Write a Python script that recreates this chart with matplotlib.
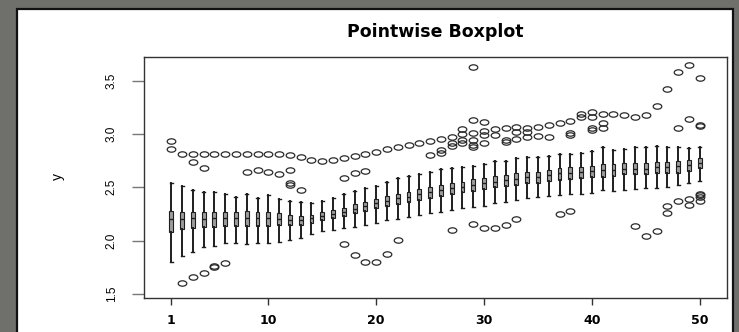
import numpy as np
import matplotlib
matplotlib.use("Agg")
import matplotlib.pyplot as plt
from matplotlib.patches import Rectangle
from matplotlib.path import Path
from matplotlib.transforms import Affine2D

# per-position box statistics (positions 1..50)
medians = [2.20, 2.20, 2.21, 2.20, 2.21, 2.21, 2.21, 2.21, 2.21, 2.21,
           2.20, 2.19, 2.19, 2.21, 2.23, 2.25, 2.27, 2.30, 2.32, 2.35,
           2.375, 2.397, 2.412, 2.434, 2.453, 2.475, 2.49, 2.506, 2.521, 2.537,
           2.553, 2.568, 2.58, 2.60, 2.60, 2.615, 2.63, 2.635, 2.64, 2.653,
           2.662, 2.662, 2.67, 2.676, 2.676, 2.69, 2.69, 2.70, 2.71, 2.725]
q1 = [2.084, 2.106, 2.116, 2.125, 2.13, 2.137, 2.14, 2.137, 2.137, 2.137,
      2.144, 2.144, 2.15, 2.168, 2.19, 2.21, 2.23, 2.256, 2.28, 2.303,
      2.325, 2.343, 2.365, 2.381, 2.403, 2.418, 2.437, 2.453, 2.465, 2.481,
      2.506, 2.512, 2.521, 2.537, 2.543, 2.562, 2.568, 2.578, 2.584, 2.594,
      2.60, 2.606, 2.62, 2.62, 2.62, 2.63, 2.637, 2.637, 2.656, 2.678]
q3 = [2.281, 2.27, 2.27, 2.266, 2.266, 2.266, 2.266, 2.278, 2.27, 2.266,
      2.256, 2.237, 2.234, 2.243, 2.265, 2.287, 2.31, 2.34, 2.365, 2.393,
      2.418, 2.437, 2.459, 2.481, 2.50, 2.521, 2.537, 2.553, 2.575, 2.584,
      2.606, 2.615, 2.63, 2.64, 2.647, 2.662, 2.678, 2.687, 2.693, 2.70,
      2.715, 2.715, 2.725, 2.73, 2.73, 2.74, 2.74, 2.747, 2.756, 2.772]
whisk_lo = [1.803, 1.856, 1.894, 1.94, 1.953, 1.975, 1.975, 1.97, 1.98, 1.975,
            1.984, 2.006, 2.025, 2.062, 2.087, 2.097, 2.116, 2.13, 2.147, 2.168,
            2.19, 2.20, 2.218, 2.24, 2.256, 2.272, 2.287, 2.309, 2.318, 2.325,
            2.35, 2.365, 2.381, 2.397, 2.406, 2.418, 2.428, 2.437, 2.44, 2.45,
            2.475, 2.468, 2.475, 2.487, 2.49, 2.49, 2.506, 2.519, 2.543, 2.562]
whisk_hi = [2.543, 2.515, 2.475, 2.453, 2.453, 2.437, 2.406, 2.44, 2.397, 2.425,
            2.387, 2.375, 2.36, 2.355, 2.375, 2.403, 2.434, 2.468, 2.497, 2.515,
            2.553, 2.584, 2.609, 2.622, 2.64, 2.672, 2.684, 2.693, 2.703, 2.718,
            2.746, 2.75, 2.772, 2.78, 2.78, 2.793, 2.812, 2.812, 2.825, 2.84,
            2.875, 2.85, 2.862, 2.88, 2.88, 2.887, 2.875, 2.88, 2.865, 2.875]
outliers = [
    [2.93, 2.86], [2.81, 1.60], [2.81, 2.74, 1.66], [2.81, 2.68, 1.70],
    [2.81, 1.76, 1.75], [2.81, 1.79], [2.81], [2.81, 2.64], [2.81, 2.665],
    [2.81, 2.64], [2.81, 2.62], [2.80, 2.66, 2.54, 2.52], [2.78, 2.475],
    [2.76], [2.75], [2.756], [2.77, 2.584, 1.966], [2.79, 2.637, 1.862],
    [2.81, 2.653, 1.797], [2.83, 1.797], [2.856, 1.878], [2.875, 2.003],
    [2.893], [2.912], [2.934, 2.80], [2.953, 2.85, 2.82],
    [2.975, 2.912, 2.89, 2.097], [3.0, 3.044, 2.943, 2.912],
    [3.625, 3.131, 3.01, 2.943, 2.90, 2.875, 2.155],
    [3.115, 3.03, 2.99, 2.912, 2.122], [3.045, 2.99, 2.115],
    [3.06, 2.943, 2.92, 2.144], [3.068, 3.018, 2.955, 2.206],
    [3.06, 3.02, 2.974], [3.068, 2.98], [3.084, 2.974], [3.10, 2.25],
    [3.12, 3.006, 2.99, 2.28], [3.187, 3.16], [3.21, 3.16, 3.06, 3.04],
    [3.187, 3.10, 3.06], [3.187], [3.177], [3.16, 2.14], [3.177, 2.04],
    [3.262, 2.09], [3.418, 2.32, 2.26], [3.578, 3.06, 2.37],
    [3.643, 3.143, 2.39, 2.334], [3.527, 3.07, 3.08, 2.44, 2.428, 2.41, 2.372],
]
positions = list(range(1, 51))
xtick_pos = [1, 10, 20, 30, 40, 50]
ytick_pos = [1.5, 2.0, 2.5, 3.0, 3.5]

stats = []
for i in range(len(positions)):
    stats.append(dict(med=medians[i], q1=q1[i], q3=q3[i],
                      whislo=whisk_lo[i], whishi=whisk_hi[i],
                      fliers=outliers[i]))

# R draws open circles; the screenshot stretches them into wide ellipses
ellipse = Path(Affine2D().scale(1.6, 1.0).transform(Path.unit_circle().vertices),
               Path.unit_circle().codes)

fig = plt.figure(figsize=(7.39, 3.32), dpi=100, facecolor="#6f6f6c")
fig.patches.append(Rectangle((17 / 739, -0.05), 716 / 739, 1.05 - 9 / 332,
                             transform=fig.transFigure, facecolor="white",
                             edgecolor="#111111", linewidth=1.6, zorder=-10))

ax = fig.add_axes([144.3 / 739, 1 - 297.7 / 332, 582.4 / 739, 241 / 332])
ax.set_zorder(2)
ax.set_facecolor("white")

ax.bxp(stats, positions=positions, widths=0.36, patch_artist=True,
       showfliers=True, capwidths=0.28,
       boxprops=dict(facecolor="#9d9d9d", edgecolor="#1e1e1e", linewidth=0.8),
       medianprops=dict(color="#1e1e1e", linewidth=1.0),
       whiskerprops=dict(color="#1e1e1e", linewidth=1.4),
       capprops=dict(color="#1e1e1e", linewidth=1.0),
       flierprops=dict(marker=ellipse, markersize=6.2, markerfacecolor="none",
                       markeredgecolor="#2a2a2a", markeredgewidth=0.9))

ax.set_xlim(-1.5, 52.5)
ax.set_ylim(1.465, 3.724)

ax.set_xticks(xtick_pos)
ax.set_xticklabels([str(v) for v in xtick_pos], fontsize=9, fontweight="bold",
                   family="DejaVu Sans")
ax.set_yticks(ytick_pos)
ax.set_yticklabels([f"{v:.1f}" for v in ytick_pos], fontsize=8.5,
                   family="Liberation Sans", rotation=90, va="center")
ax.tick_params(axis="x", length=5, width=1.0, color="#333333", pad=7)
ax.tick_params(axis="y", length=9, width=1.0, color="#777777", pad=10)

for s in ax.spines.values():
    s.set_color("#333333")
    s.set_linewidth(1.0)

fig.text(435.5 / 739, 1 - 32 / 332, "Pointwise Boxplot", ha="center", va="center",
         fontsize=12.5, fontweight="bold", family="DejaVu Sans")
fig.text(58 / 739, 1 - 177 / 332, "y", ha="center", va="center", rotation=90,
         fontsize=10, family="Liberation Sans")

fig.savefig("out.png", dpi=100, facecolor=fig.get_facecolor())
